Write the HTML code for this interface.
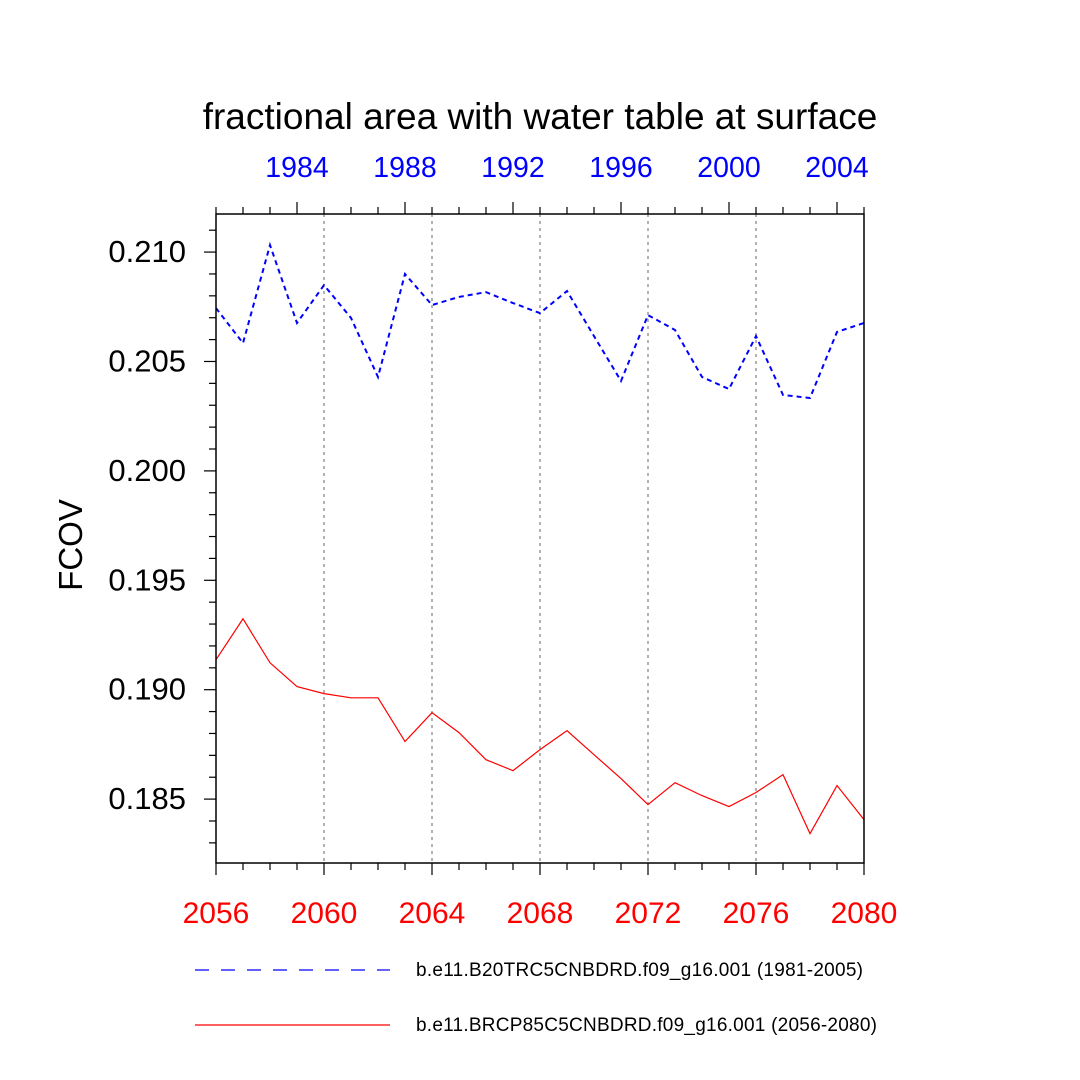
<!DOCTYPE html>
<html><head><meta charset="utf-8"><style>
html,body{margin:0;padding:0;background:#fff;}
svg{display:block;font-family:"Liberation Sans",Arial,sans-serif;}
</style></head><body>
<svg id="chart" width="1080" height="1080" viewBox="0 0 1080 1080">
<text x="540" y="129" font-size="37" text-anchor="middle">fractional area with water table at surface</text>
<text transform="translate(82,545) rotate(-90)" font-size="33" text-anchor="middle">FCOV</text>
<g id="grid"></g><g id="axes"></g><g id="series"></g>
<rect x="216" y="214" width="648" height="649" fill="none" stroke="#000" stroke-width="1.5"/>
<g>
<line x1="195" y1="970" x2="390" y2="970" stroke="#00f" stroke-width="1.2" stroke-dasharray="14,12"/>
<text x="416" y="976" font-size="19" textLength="447">b.e11.B20TRC5CNBDRD.f09_g16.001 (1981-2005)</text>
<line x1="195" y1="1025" x2="390" y2="1025" stroke="#f00" stroke-width="1.2"/>
<text x="416" y="1031" font-size="19" textLength="461">b.e11.BRCP85C5CNBDRD.f09_g16.001 (2056-2080)</text>
</g>
</svg>
<script>
const years = [2056,2057,2058,2059,2060,2061,2062,2063,2064,2065,2066,2067,2068,2069,2070,2071,2072,2073,2074,2075,2076,2077,2078,2079,2080];
const histYears = [1981,1982,1983,1984,1985,1986,1987,1988,1989,1990,1991,1992,1993,1994,1995,1996,1997,1998,1999,2000,2001,2002,2003,2004,2005];
const histValues = [0.20744,0.20584,0.21032,0.20676,0.20849,0.20699,0.20429,0.20900,0.20758,0.20795,0.20817,0.20767,0.20721,0.20822,0.20616,0.20411,0.20712,0.20644,0.20429,0.20374,0.20616,0.20347,0.20333,0.20635,0.20676];
const rcpValues = [0.19137,0.19324,0.19123,0.19014,0.18982,0.18963,0.18963,0.18763,0.18895,0.18804,0.18680,0.18630,0.18726,0.18813,0.18703,0.18594,0.18475,0.18575,0.18516,0.18466,0.18530,0.18612,0.18342,0.18562,0.18406];
const yTicks = [0.185,0.190,0.195,0.200,0.205,0.210];
const bottomTicks = [2056,2060,2064,2068,2072,2076,2080];
const topTicks = [1984,1988,1992,1996,2000,2004];

const NS="http://www.w3.org/2000/svg";
const L=216,R=864,T=214,B=863;
const yMin=0.18208,yMax=0.21174;
const xB=v=>L+(v-2056)/(2080-2056)*(R-L);
const xT=v=>L+(v-1981)/(2005-1981)*(R-L);
const yS=v=>B-(v-yMin)/(yMax-yMin)*(B-T);
function mk(tag,attrs,parent,txt){const e=document.createElementNS(NS,tag);for(const k in attrs)e.setAttribute(k,attrs[k]);if(txt!==undefined)e.textContent=txt;parent.appendChild(e);return e;}
const grid=document.getElementById('grid'),axes=document.getElementById('axes'),ser=document.getElementById('series');
bottomTicks.forEach(t=>{if(t>2056&&t<2080){const g=mk('line',{x1:xB(t),x2:xB(t),y1:T,y2:B,stroke:'#999','stroke-width':1.5,'stroke-dasharray':'3,4'},grid);

}});
for(let y=2056;y<=2080;y++){const maj=bottomTicks.includes(y);const l=mk('line',{x1:xB(y),x2:xB(y),y1:B,y2:B+(maj?12:7),stroke:'#000','stroke-width':1.2},axes);

}
bottomTicks.forEach(t=>{const e=mk('text',{x:xB(t),y:923,'font-size':30,fill:'#f00','text-anchor':'middle'},axes,String(t));

});
for(let y=1981;y<=2005;y++){const maj=topTicks.includes(y);const l=mk('line',{x1:xT(y),x2:xT(y),y1:T,y2:T-(maj?12:7),stroke:'#000','stroke-width':1.2},axes);

}
topTicks.forEach(t=>{const e=mk('text',{x:xT(t),y:177,'font-size':28.5,fill:'#00f','text-anchor':'middle'},axes,String(t));

});
for(let k=183;k<=211;k++){const v=k/1000;const maj=k%5===0;const l=mk('line',{x1:L,x2:L-(maj?12:7),y1:yS(v),y2:yS(v),stroke:'#000','stroke-width':1.2},axes);

}
yTicks.forEach(t=>{const e=mk('text',{x:186,y:yS(t)+10,'font-size':31,'text-anchor':'end'},axes,t.toFixed(3));

});
const hp=mk('polyline',{points:histYears.map((y,i)=>xT(y)+','+yS(histValues[i])).join(' '),fill:'none',stroke:'#00f','stroke-width':2,'stroke-dasharray':'5,4'},ser);


const rp=mk('polyline',{points:years.map((y,i)=>xB(y)+','+yS(rcpValues[i])).join(' '),fill:'none',stroke:'#f00','stroke-width':1.2},ser);


</script>
</body></html>
